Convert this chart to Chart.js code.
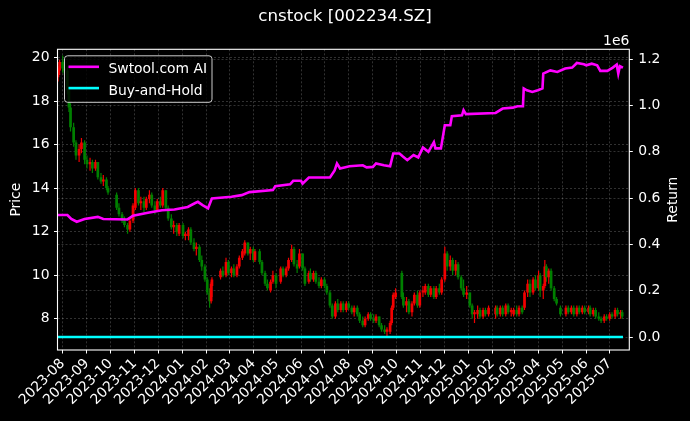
<!DOCTYPE html>
<html>
<head>
<meta charset="utf-8">
<title>cnstock [002234.SZ]</title>
<script src="https://cdn.jsdelivr.net/npm/chart.js@4.4.0/dist/chart.umd.min.js"></script>
<style>
  html, body { margin: 0; padding: 0; background: #000; }
  #wrap { width: 690px; height: 421px; }
</style>
</head>
<body>
<div id="wrap"><canvas id="stock-chart" width="690" height="421"></canvas></div>
<script>
// ---- chart data ----

const titleText = 'cnstock [002234.SZ]';

// x axis: one tick per month
const monthTicks = [
    '2023-08', '2023-09', '2023-10', '2023-11', '2023-12',
    '2024-01', '2024-02', '2024-03', '2024-04', '2024-05', '2024-06',
    '2024-07', '2024-08', '2024-09', '2024-10', '2024-11', '2024-12',
    '2025-01', '2025-02', '2025-03', '2025-04', '2025-05', '2025-06', '2025-07'
];
const xRange = ['2023-07-25', '2025-07-26'];

// left axis (price) and right axis (return, shown as x 1e6)
const priceTicks = [8, 10, 12, 14, 16, 18, 20];
const priceRange = [6.56, 20.38];
const returnTicks = [0, 200000, 400000, 600000, 800000, 1000000, 1200000];
const returnRange = [-56000, 1243000];

// candles (sampled about twice a week)
const candleDates = [
    '2023-07-26', '2023-07-28',
    '2023-08-01', '2023-08-03', '2023-08-07', '2023-08-09', '2023-08-11', '2023-08-15', '2023-08-18', '2023-08-22', '2023-08-25', '2023-08-29',
    '2023-09-01', '2023-09-05', '2023-09-08', '2023-09-12', '2023-09-15', '2023-09-19', '2023-09-22', '2023-09-26', '2023-09-28',
    '2023-10-09', '2023-10-12', '2023-10-16', '2023-10-19', '2023-10-23', '2023-10-26', '2023-10-30',
    '2023-11-02', '2023-11-06', '2023-11-09', '2023-11-13', '2023-11-16', '2023-11-20', '2023-11-23', '2023-11-27', '2023-11-30',
    '2023-12-04', '2023-12-07', '2023-12-11', '2023-12-14', '2023-12-18', '2023-12-21', '2023-12-25', '2023-12-28',
    '2024-01-02', '2024-01-05', '2024-01-09', '2024-01-12', '2024-01-16', '2024-01-19', '2024-01-23', '2024-01-26', '2024-01-30',
    '2024-02-02', '2024-02-05', '2024-02-07', '2024-02-08', '2024-02-19', '2024-02-22', '2024-02-26', '2024-02-29',
    '2024-03-04', '2024-03-07', '2024-03-11', '2024-03-14', '2024-03-18', '2024-03-21', '2024-03-25', '2024-03-28',
    '2024-04-01', '2024-04-03', '2024-04-09', '2024-04-12', '2024-04-16', '2024-04-19', '2024-04-23', '2024-04-26', '2024-04-30',
    '2024-05-06', '2024-05-09', '2024-05-13', '2024-05-16', '2024-05-20', '2024-05-23', '2024-05-27', '2024-05-30',
    '2024-06-03', '2024-06-06', '2024-06-11', '2024-06-13', '2024-06-17', '2024-06-20', '2024-06-24', '2024-06-27',
    '2024-07-01', '2024-07-04', '2024-07-08', '2024-07-11', '2024-07-15', '2024-07-18', '2024-07-22', '2024-07-25', '2024-07-29',
    '2024-08-01', '2024-08-05', '2024-08-08', '2024-08-12', '2024-08-15', '2024-08-19', '2024-08-22', '2024-08-26', '2024-08-29',
    '2024-09-02', '2024-09-05', '2024-09-09', '2024-09-12', '2024-09-16', '2024-09-19', '2024-09-23', '2024-09-25', '2024-09-27', '2024-09-30',
    '2024-10-08', '2024-10-10', '2024-10-14', '2024-10-17', '2024-10-21', '2024-10-24', '2024-10-28', '2024-10-31',
    '2024-11-04', '2024-11-07', '2024-11-11', '2024-11-14', '2024-11-18', '2024-11-21', '2024-11-25', '2024-11-28',
    '2024-12-02', '2024-12-05', '2024-12-09', '2024-12-12', '2024-12-16', '2024-12-19', '2024-12-23', '2024-12-26', '2024-12-30',
    '2025-01-03', '2025-01-06', '2025-01-09', '2025-01-13', '2025-01-16', '2025-01-20', '2025-01-23', '2025-01-27',
    '2025-02-05', '2025-02-07', '2025-02-11', '2025-02-14', '2025-02-18', '2025-02-21', '2025-02-25', '2025-02-28',
    '2025-03-04', '2025-03-07', '2025-03-11', '2025-03-14', '2025-03-18', '2025-03-21', '2025-03-25', '2025-03-28',
    '2025-04-01', '2025-04-03', '2025-04-07', '2025-04-09', '2025-04-11', '2025-04-14', '2025-04-17', '2025-04-21', '2025-04-24', '2025-04-29',
    '2025-05-06', '2025-05-09', '2025-05-13', '2025-05-16', '2025-05-20', '2025-05-23', '2025-05-27', '2025-05-30',
    '2025-06-04', '2025-06-06', '2025-06-10', '2025-06-13', '2025-06-17', '2025-06-20', '2025-06-24', '2025-06-27',
    '2025-07-01', '2025-07-04', '2025-07-08', '2025-07-11', '2025-07-15', '2025-07-17'
];

const opens = [
    19.1, 19.4,
    19.8, 19.5, 19.4, 18.5, 17.7, 16.8, 16.1, 15.5, 15.8, 16.1,
    15.3, 15.1, 15.2, 14.9, 15.2, 14.5, 14.3, 14.4, 14.0,
    13.7, 13.1, 12.8, 12.5, 12.3, 12.1, 12.5,
    13.1, 13.9, 13.3, 13.4, 13.1, 13.5, 13.7, 13.2, 13.0,
    13.4, 13.2, 13.9, 13.1, 12.6, 12.2, 12.3, 11.9,
    12.3, 11.8, 11.8, 12.1, 11.5, 11.2, 11.3, 10.7, 10.4,
    9.8, 9.2, 8.8, 9.5, 9.9, 10.2, 10.0, 10.6,
    10.1, 10.3, 10.0, 10.4, 10.8, 11.0, 11.5, 11.0,
    11.2, 10.7, 11.1, 10.6, 10.1, 9.6, 9.3, 9.7, 10.0,
    9.7, 10.3, 10.0, 10.3, 10.7, 11.2, 10.5, 10.4,
    11.0, 10.3, 9.7, 10.1, 9.8, 10.1, 9.7, 9.5,
    9.8, 9.5, 9.2, 8.6, 8.1, 8.7, 8.4, 8.7, 8.4,
    8.7, 8.5, 8.3, 8.5, 8.2, 7.9, 7.7, 8.0, 8.2,
    8.0, 7.9, 8.1, 7.7, 7.5, 7.4, 7.4, 7.8, 8.5, 9.0,
    10.1, 9.0, 8.6, 8.8, 8.3, 8.7, 9.1, 8.6,
    9.2, 9.2, 9.5, 9.1, 9.4, 9.0, 9.4, 9.2,
    9.8, 11.0, 10.4, 10.7, 10.2, 10.5, 9.9, 9.4, 9.1,
    9.2, 8.6, 8.2, 8.2, 8.4, 8.1, 8.4, 8.2,
    8.2, 8.5, 8.2, 8.5, 8.2, 8.6, 8.3, 8.2,
    8.4, 8.2, 8.5, 8.5, 9.2, 9.6, 9.2, 9.8,
    9.4, 10.0, 9.3, 9.5, 10.4, 9.9, 10.2, 9.4, 8.9, 8.5,
    8.2, 8.5, 8.3, 8.5, 8.2, 8.5, 8.3, 8.5,
    8.3, 8.5, 8.2, 8.4, 8.1, 8.0, 7.9, 8.1,
    8.0, 8.2, 8.1, 8.4, 8.2, 8.3
];

const highs = [
    19.6, 19.9,
    20.1, 19.9, 19.6, 18.6, 17.9, 17.0, 16.2, 16.0, 16.3, 16.2,
    15.5, 15.4, 15.3, 15.3, 15.2, 14.7, 14.6, 14.5, 14.1,
    13.8, 13.3, 12.9, 12.7, 12.4, 12.6, 13.3,
    14.0, 14.0, 13.6, 13.6, 13.6, 13.9, 13.8, 13.4, 13.5,
    13.6, 14.0, 13.9, 13.2, 12.8, 12.5, 12.4, 12.4,
    12.4, 12.0, 12.2, 12.2, 11.7, 11.5, 11.4, 10.9, 10.5,
    9.9, 9.4, 9.7, 9.9, 10.3, 10.4, 10.8, 10.7,
    10.4, 10.5, 10.5, 10.9, 11.2, 11.6, 11.5, 11.3,
    11.3, 11.2, 11.2, 10.7, 10.2, 9.8, 9.8, 10.2, 10.1,
    10.4, 10.4, 10.4, 10.8, 11.4, 11.3, 10.7, 11.2,
    11.0, 10.4, 10.2, 10.3, 10.2, 10.2, 9.9, 9.9,
    9.9, 9.6, 9.3, 8.7, 8.8, 8.9, 8.8, 8.8, 8.8,
    8.8, 8.6, 8.6, 8.6, 8.3, 8.1, 8.1, 8.3, 8.3,
    8.2, 8.2, 8.1, 7.8, 7.7, 7.6, 7.9, 8.6, 9.2, 9.4,
    10.2, 9.2, 9.0, 8.9, 8.8, 9.2, 9.3, 9.3,
    9.5, 9.6, 9.6, 9.5, 9.5, 9.5, 9.6, 9.9,
    11.3, 11.1, 10.9, 10.8, 10.7, 10.6, 10.0, 9.8, 9.5,
    9.2, 8.7, 8.4, 8.6, 8.5, 8.5, 8.5, 8.6,
    8.6, 8.6, 8.6, 8.6, 8.7, 8.7, 8.5, 8.5,
    8.6, 8.6, 8.6, 9.3, 9.8, 9.8, 9.9, 10.0,
    10.2, 10.1, 9.6, 10.7, 10.5, 10.3, 10.3, 9.5, 9.0, 8.6,
    8.6, 8.6, 8.6, 8.6, 8.6, 8.6, 8.6, 8.6,
    8.6, 8.6, 8.5, 8.5, 8.3, 8.1, 8.2, 8.2,
    8.3, 8.3, 8.5, 8.5, 8.4, 8.4
];

const lows = [
    18.9, 19.2,
    19.3, 19.2, 18.3, 17.5, 16.6, 15.9, 15.3, 15.2, 15.6, 15.1,
    14.9, 14.8, 14.7, 14.8, 14.4, 14.2, 14.1, 13.9, 13.7,
    13.0, 12.7, 12.4, 12.2, 11.9, 12.0, 12.4,
    13.0, 13.2, 13.0, 12.9, 13.0, 13.3, 13.1, 12.8, 12.9,
    13.1, 13.1, 13.0, 12.5, 12.1, 11.9, 11.8, 11.8,
    11.7, 11.6, 11.6, 11.4, 11.1, 10.9, 10.6, 10.2, 9.7,
    9.1, 8.5, 8.7, 9.0, 9.8, 9.9, 9.9, 10.0,
    9.9, 9.9, 9.9, 10.3, 10.7, 10.9, 10.9, 10.7,
    10.6, 10.6, 10.5, 10.0, 9.5, 9.3, 9.2, 9.6, 9.4,
    9.6, 9.9, 9.9, 10.2, 10.6, 10.4, 10.1, 10.3,
    10.2, 9.5, 9.6, 9.7, 9.7, 9.6, 9.4, 9.4,
    9.4, 9.1, 8.5, 8.0, 8.0, 8.3, 8.3, 8.3, 8.3,
    8.4, 8.2, 8.1, 8.1, 7.8, 7.6, 7.6, 7.9, 7.9,
    7.8, 7.8, 7.6, 7.4, 7.3, 7.2, 7.3, 7.7, 8.4, 8.9,
    8.9, 8.5, 8.3, 8.2, 8.1, 8.6, 8.5, 8.5,
    9.0, 9.1, 9.0, 9.0, 8.9, 8.9, 9.1, 9.1,
    9.7, 10.2, 10.2, 10.0, 10.0, 9.8, 9.3, 9.0, 8.9,
    8.5, 8.0, 7.8, 8.0, 8.0, 8.0, 8.1, 8.1,
    8.0, 8.1, 8.1, 8.1, 8.1, 8.2, 8.1, 8.1,
    8.1, 8.1, 8.2, 8.4, 9.0, 9.0, 9.1, 9.3,
    9.3, 9.0, 8.9, 9.4, 9.7, 9.6, 9.3, 8.8, 8.6, 8.1,
    8.1, 8.2, 8.2, 8.1, 8.1, 8.2, 8.2, 8.2,
    8.2, 8.1, 8.1, 8.0, 7.9, 7.8, 7.8, 7.9,
    7.9, 8.0, 8.0, 8.1, 8.0, 8.0
];

const closes = [
    19.5, 19.8,
    19.5, 19.4, 18.5, 17.7, 16.8, 16.1, 15.5, 15.8, 16.1, 15.3,
    15.1, 15.2, 14.9, 15.2, 14.5, 14.3, 14.4, 14.0, 13.8,
    13.1, 12.8, 12.5, 12.3, 12.1, 12.5, 13.2,
    13.9, 13.3, 13.4, 13.1, 13.5, 13.7, 13.2, 13.0, 13.4,
    13.2, 13.9, 13.1, 12.6, 12.2, 12.3, 12.0, 12.3,
    11.8, 11.9, 12.1, 11.5, 11.2, 11.3, 10.7, 10.4, 9.8,
    9.2, 8.8, 9.6, 9.8, 10.2, 10.0, 10.6, 10.1,
    10.3, 10.0, 10.4, 10.8, 11.1, 11.5, 11.0, 11.2,
    10.7, 11.1, 10.6, 10.1, 9.6, 9.4, 9.7, 10.0, 9.6,
    10.3, 10.0, 10.3, 10.7, 11.2, 10.5, 10.3, 11.0,
    10.3, 9.6, 10.1, 9.8, 10.1, 9.7, 9.5, 9.8,
    9.5, 9.2, 8.6, 8.1, 8.7, 8.4, 8.7, 8.4, 8.7,
    8.5, 8.3, 8.5, 8.2, 7.9, 7.7, 8.0, 8.2, 8.0,
    7.9, 8.1, 7.7, 7.5, 7.4, 7.5, 7.8, 8.5, 9.1, 9.2,
    9.0, 8.6, 8.8, 8.3, 8.7, 9.1, 8.6, 9.2,
    9.3, 9.5, 9.1, 9.4, 9.0, 9.4, 9.2, 9.8,
    11.0, 10.4, 10.7, 10.2, 10.5, 9.9, 9.4, 9.1, 9.2,
    8.6, 8.2, 8.3, 8.4, 8.1, 8.4, 8.2, 8.5,
    8.5, 8.2, 8.5, 8.2, 8.6, 8.3, 8.4, 8.4,
    8.2, 8.5, 8.3, 9.2, 9.6, 9.2, 9.8, 9.4,
    10.0, 9.3, 9.5, 10.4, 9.9, 10.2, 9.4, 8.9, 8.7, 8.2,
    8.5, 8.3, 8.5, 8.2, 8.5, 8.3, 8.5, 8.3,
    8.5, 8.2, 8.4, 8.1, 8.0, 7.9, 8.1, 8.0,
    8.2, 8.1, 8.4, 8.2, 8.3, 8.1
];

// strategy equity ("Swtool.com AI"), right axis
const aiDates = [
    '2023-07-26', '2023-08-07', '2023-08-12', '2023-08-19', '2023-08-29', '2023-09-15', '2023-09-22',
    '2023-10-23', '2023-10-30', '2023-11-18', '2023-12-06', '2023-12-22', '2024-01-08', '2024-01-17',
    '2024-01-21', '2024-01-27', '2024-02-03', '2024-02-08', '2024-03-04', '2024-03-17', '2024-03-27',
    '2024-04-26', '2024-04-29', '2024-05-18', '2024-05-22', '2024-06-01', '2024-06-03', '2024-06-11',
    '2024-07-08', '2024-07-14', '2024-07-17', '2024-07-21', '2024-08-02', '2024-08-19', '2024-08-24',
    '2024-09-01', '2024-09-05', '2024-09-15', '2024-09-23', '2024-09-27', '2024-10-05', '2024-10-09',
    '2024-10-15', '2024-10-23', '2024-10-29', '2024-11-04', '2024-11-11', '2024-11-18', '2024-11-20',
    '2024-11-27', '2024-12-02', '2024-12-09', '2024-12-11', '2024-12-24', '2024-12-26', '2024-12-29',
    '2025-02-05', '2025-02-14', '2025-02-27', '2025-03-05', '2025-03-12', '2025-03-13', '2025-03-17',
    '2025-03-24', '2025-03-31', '2025-04-06', '2025-04-07', '2025-04-16', '2025-04-25', '2025-05-05',
    '2025-05-14', '2025-05-20', '2025-05-29', '2025-06-01', '2025-06-08', '2025-06-15', '2025-06-19',
    '2025-06-28', '2025-07-05', '2025-07-10', '2025-07-12', '2025-07-14', '2025-07-18'
];
const aiReturn = [
    527000, 527000, 510000, 498000, 510000, 519000, 510000,
    508000, 524000, 537000, 548000, 551000, 562000, 578000,
    584000, 570000, 556000, 599000, 606000, 613000, 626000,
    635000, 652000, 660000, 675000, 675000, 663000, 689000,
    689000, 720000, 750000, 728000, 738000, 742000, 733000,
    735000, 750000, 742000, 738000, 793000, 793000, 781000,
    764000, 786000, 776000, 819000, 800000, 842000, 815000,
    815000, 915000, 915000, 954000, 958000, 980000, 963000,
    968000, 987000, 991000, 997000, 997000, 1074000, 1066000,
    1059000, 1066000, 1074000, 1138000, 1152000, 1145000, 1160000,
    1164000, 1184000, 1178000, 1174000, 1181000, 1174000, 1150000,
    1150000, 1164000, 1177000, 1138000, 1170000, 1164000
];

// buy-and-hold stays flat at zero on the right axis
const bhDates = ['2023-07-25', '2025-07-18'];
const bhReturn = [0, 0];

// ---- helpers ----

const FONT = 'DejaVu Sans';
const upColor = '#f20000';
const downColor = '#008000';
const gridColor = 'rgba(255, 255, 255, 0.32)';

function toDay(s) {
    return Date.parse(s) / 864e5;
}

const candleColors = closes.map((c, i) => c >= opens[i] ? upColor : downColor);

// title, spines, axis titles, offset text and the boxed legend
const overlayPlugin = {
    id: 'overlay',
    beforeDraw(chart) {
        const g = chart.ctx;
        g.save();
        g.fillStyle = '#000';
        g.fillRect(0, 0, chart.width, chart.height);
        g.restore();
    },
    afterDraw(chart) {
        const g = chart.ctx;
        const a = chart.chartArea;
        g.save();

        // frame
        g.strokeStyle = '#fff';
        g.lineWidth = 1.1;
        g.strokeRect(a.left, a.top, a.right - a.left, a.bottom - a.top);

        g.fillStyle = '#fff';

        // title
        g.font = '16.7px "' + FONT + '"';
        g.textAlign = 'center';
        g.textBaseline = 'alphabetic';
        g.fillText(titleText, 345, 21);

        // offset text of the right axis
        g.font = '13.9px "' + FONT + '"';
        g.textAlign = 'right';
        g.fillText('1e6', a.right, a.top - 4);

        // axis titles, both read bottom to top
        g.textAlign = 'center';
        g.textBaseline = 'middle';
        const midY = (a.top + a.bottom) / 2;
        g.save();
        g.translate(16, midY);
        g.rotate(-Math.PI / 2);
        g.fillText('Price', 0, 0);
        g.restore();
        g.save();
        g.translate(673, midY);
        g.rotate(-Math.PI / 2);
        g.fillText('Return', 0, 0);
        g.restore();

        // legend
        const lx = a.left + 7, ly = a.top + 6.5;
        g.beginPath();
        g.roundRect(lx, ly, 147.5, 46.5, 3);
        g.fillStyle = 'rgba(0, 0, 0, 0.8)';
        g.fill();
        g.strokeStyle = '#cccccc';
        g.lineWidth = 1;
        g.stroke();

        const entries = chart.data.datasets.filter(d => d.type === 'line');
        entries.forEach((d, i) => {
            const y = ly + 11 + i * 21.3;
            g.strokeStyle = d.borderColor;
            g.lineWidth = 2.6;
            g.beginPath();
            g.moveTo(lx + 4, y);
            g.lineTo(lx + 34.5, y);
            g.stroke();
            g.fillStyle = '#fff';
            g.textAlign = 'left';
            g.textBaseline = 'alphabetic';
            g.fillText(d.label, lx + 44, y + 6.4);
        });

        g.restore();
    }
};

// ---- chart ----

function initStockChart() {
    const ctx = document.getElementById('stock-chart');
    if (!ctx) return null;

    const tickFont = { family: FONT, size: 13.9 };

    return new Chart(ctx.getContext('2d'), {
        type: 'bar',
        data: {
            datasets: [{
                type: 'line',
                label: 'Swtool.com AI',
                data: aiDates.map((d, i) => ({ x: toDay(d), y: aiReturn[i] })),
                borderColor: '#ff00ff',
                borderWidth: 2.6,
                pointRadius: 0,
                tension: 0,
                yAxisID: 'y2',
                order: 0
            }, {
                type: 'line',
                label: 'Buy-and-Hold',
                data: bhDates.map((d, i) => ({ x: toDay(d), y: bhReturn[i] })),
                borderColor: '#00ffff',
                borderWidth: 2.6,
                pointRadius: 0,
                tension: 0,
                yAxisID: 'y2',
                order: 1
            }, {
                label: 'wick',
                data: candleDates.map((d, i) => ({ x: toDay(d), y: [lows[i], highs[i]] })),
                backgroundColor: candleColors,
                barThickness: 1.2,
                grouped: false,
                inflateAmount: 0,
                yAxisID: 'y',
                order: 3
            }, {
                label: 'body',
                data: candleDates.map((d, i) => ({ x: toDay(d), y: [opens[i], closes[i]] })),
                backgroundColor: candleColors,
                barThickness: 2.7,
                minBarLength: 1,
                grouped: false,
                inflateAmount: 0,
                yAxisID: 'y',
                order: 2
            }]
        },
        options: {
            responsive: false,
            animation: false,
            events: [],
            layout: {
                padding: { top: 49.3, left: 0, right: 0, bottom: 0 }
            },
            plugins: {
                legend: { display: false },
                title: { display: false },
                tooltip: { enabled: false }
            },
            scales: {
                x: {
                    type: 'linear',
                    min: toDay(xRange[0]) + 0.35,
                    max: toDay(xRange[1]) + 0.1,
                    offset: false,
                    afterBuildTicks: function(scale) {
                        scale.ticks = monthTicks.map(m => ({ value: toDay(m + '-01') }));
                    },
                    afterFit: function(scale) {
                        scale.height = 71;
                    },
                    ticks: {
                        autoSkip: false,
                        maxRotation: 45,
                        minRotation: 45,
                        color: '#fff',
                        font: tickFont,
                        padding: 2,
                        callback: function(value, index) {
                            return monthTicks[index];
                        }
                    },
                    grid: {
                        offset: false,
                        color: gridColor,
                        lineWidth: 0.6,
                        tickColor: '#fff',
                        tickLength: 3.5,
                        tickWidth: 1,
                        tickBorderDash: []
                    },
                    border: { display: false, dash: [2, 2] }
                },
                y: {
                    position: 'left',
                    min: priceRange[0],
                    max: priceRange[1],
                    afterBuildTicks: function(scale) {
                        scale.ticks = priceTicks.map(v => ({ value: v }));
                    },
                    afterFit: function(scale) {
                        scale.width = 57.5;
                    },
                    ticks: {
                        color: '#fff',
                        font: tickFont,
                        padding: 4.5,
                        callback: function(value) {
                            return value;
                        }
                    },
                    grid: {
                        color: gridColor,
                        lineWidth: 0.6,
                        tickColor: '#fff',
                        tickLength: 3.5,
                        tickWidth: 1,
                        tickBorderDash: []
                    },
                    border: { display: false, dash: [2, 2] }
                },
                y2: {
                    position: 'right',
                    min: returnRange[0],
                    max: returnRange[1],
                    afterBuildTicks: function(scale) {
                        scale.ticks = returnTicks.map(v => ({ value: v }));
                    },
                    afterFit: function(scale) {
                        scale.width = 60.7;
                    },
                    ticks: {
                        color: '#fff',
                        font: tickFont,
                        padding: 5.5,
                        callback: function(value) {
                            return (value / 1e6).toFixed(1);
                        }
                    },
                    grid: {
                        color: gridColor,
                        lineWidth: 0.6,
                        tickColor: '#fff',
                        tickLength: 3.5,
                        tickWidth: 1,
                        tickBorderDash: []
                    },
                    border: { display: false, dash: [2, 2] }
                }
            }
        },
        plugins: [overlayPlugin]
    });
}

initStockChart();
</script>
</body>
</html>
